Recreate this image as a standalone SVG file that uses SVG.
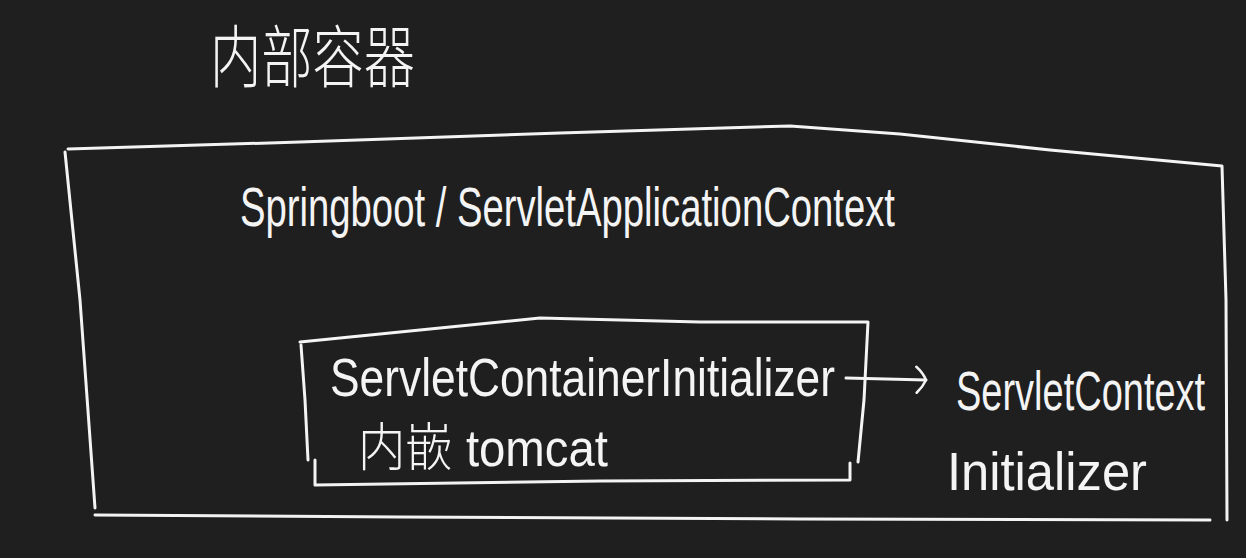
<svg xmlns="http://www.w3.org/2000/svg" width="1246" height="558" viewBox="0 0 1246 558">
<style>
.bg{fill:#1f1f1f}
.ln{fill:none;stroke:#f4f4f4;stroke-width:3;stroke-linecap:round;stroke-linejoin:round}
.t{fill:#f4f4f4;font-family:"Liberation Sans","Noto Sans CJK SC",sans-serif;font-weight:300}
</style>
<defs>
<marker id="ah" viewBox="0 0 14 30" refX="12" refY="15" markerWidth="14" markerHeight="30" markerUnits="userSpaceOnUse" orient="auto">
<path d="M2 2 Q9 8 12 15 Q9 22 3 28" fill="none" stroke="#f4f4f4" stroke-width="2.5" stroke-linecap="round"/>
</marker>
</defs>
<rect class="bg" width="1246" height="558"/>
<text class="t" x="210" y="82" font-size="68" textLength="205" lengthAdjust="spacingAndGlyphs">内部容器</text>
<g id="outer">
<path class="ln" d="M68 149 L300 142 L560 133 L790 126 L900 134 L1050 150 L1222 166 L1226 300 L1227 520"/>
<path class="ln" d="M65 152 L80 300 L95 508"/>
<path class="ln" d="M95 515 L400 517 L800 519 L1210 520"/>
<text class="t" x="240" y="226" font-size="56" textLength="655" lengthAdjust="spacingAndGlyphs">Springboot / ServletApplicationContext</text>
</g>
<g id="inner">
<path class="ln" d="M300 342 L420 330 L540 318 L700 322 L868 322 L864 400 L858 462"/>
<path class="ln" d="M301 345 L305 400 L308 460"/>
<path class="ln" d="M315 460 L315 485 L600 481 L850 480 L850 463"/>
<text class="t" x="330" y="396" font-size="54" textLength="505" lengthAdjust="spacingAndGlyphs">ServletContainerInitializer</text>
<text class="t" x="358" y="466" font-size="52" textLength="250" lengthAdjust="spacingAndGlyphs">内嵌 tomcat</text>
</g>
<g id="connectors">
<path class="ln" d="M846 378 L926 380" marker-end="url(#ah)"/>
</g>
<g id="target">
<text class="t" transform="translate(956 410) scale(1 1.45)" x="0" y="0" font-size="38">ServletContext</text>
<text class="t" x="947" y="490" font-size="54" textLength="200" lengthAdjust="spacingAndGlyphs">Initializer</text>
</g>
</svg>
